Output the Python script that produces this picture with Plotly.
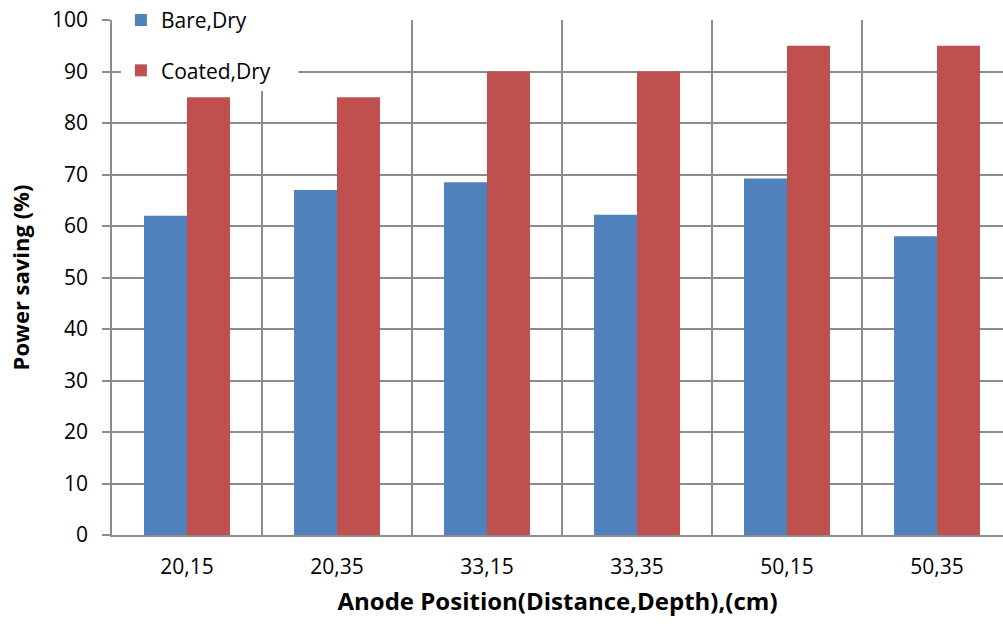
import plotly.graph_objects as go

categories = ["20,15", "20,35", "33,15", "33,35", "50,15", "50,35"]
bare_dry = [62, 67, 68.5, 62.2, 69.2, 58]
coated_dry = [85, 85, 90, 90, 95, 95]
y_ticks = [0, 10, 20, 30, 40, 50, 60, 70, 80, 90, 100]

FONT = "Open Sans, Liberation Sans, sans-serif"

fig = go.Figure()
fig.add_trace(go.Bar(x=categories, y=bare_dry, name="Bare,Dry",
                     marker=dict(color="#4F81BD", line=dict(width=0)),
                     legendgroup="a"))
fig.add_trace(go.Bar(x=categories, y=coated_dry, name="Coated,Dry",
                     marker=dict(color="#C0504D", line=dict(width=0)),
                     legendgroup="b"))

# white backing behind the legend (hides gridlines like the original)
fig.add_shape(type="rect", xref="paper", yref="paper",
              x0=0.01, x1=0.209, y0=0.868, y1=1.04,
              fillcolor="white", line=dict(width=0), layer="above")

fig.update_layout(
    width=1003, height=630,
    margin=dict(l=112, r=0, t=20, b=95, autoexpand=False),
    paper_bgcolor="white", plot_bgcolor="white",
    barmode="group", bargap=0.427, bargroupgap=0,
    font=dict(family=FONT, size=21, color="black"),
    legend=dict(x=0.01, y=1.039, xanchor="left", yanchor="top",
                bgcolor="white", font=dict(size=21),
                traceorder="grouped", tracegroupgap=20,
                itemwidth=30),
    showlegend=True,
)
fig.update_xaxes(
    range=[-0.5, 5.44], tickson="boundaries", showgrid=True,
    gridcolor="#8C8C8C", gridwidth=1.5, ticks="", showline=True,
    linecolor="#8C8C8C", linewidth=1.5, ticklabelstandoff=12,
    title=dict(text="<b>Anode Position(Distance,Depth),(cm)</b>",
               font=dict(size=24), standoff=14),
    tickfont=dict(size=21),
)
fig.update_yaxes(
    range=[0, 100], tickvals=y_ticks, showgrid=True,
    gridcolor="#8C8C8C", gridwidth=1.5, ticks="outside", ticklen=8,
    tickcolor="#8C8C8C", tickwidth=1.5, showline=True,
    linecolor="#8C8C8C", linewidth=1.5, zeroline=False,
    ticklabelstandoff=10,
    title=dict(text="<b>Power saving (%)</b>", font=dict(size=22), standoff=16),
    tickfont=dict(size=21),
)

fig.write_html("out.html", config={"displayModeBar": False},
               post_script="document.body.style.margin='0px';")
